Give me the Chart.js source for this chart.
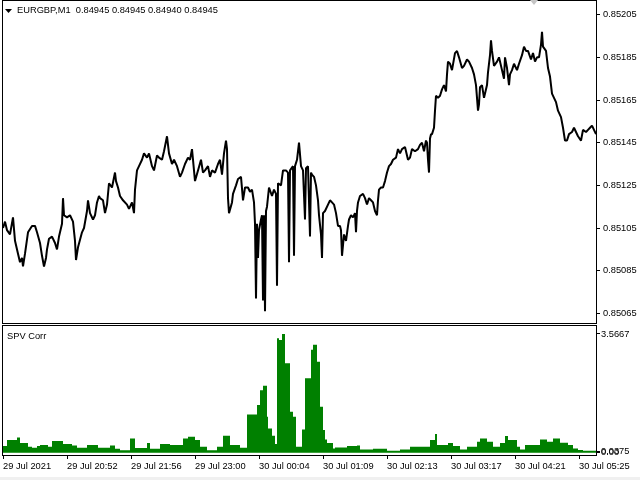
<!DOCTYPE html>
<html>
<head>
<meta charset="utf-8">
<script src="https://cdn.jsdelivr.net/npm/chart.js@4/dist/chart.umd.min.js"></script>
<style>
  html, body { margin: 0; padding: 0; background: #fff; }
  #wrap { position: relative; width: 640px; height: 480px; overflow: hidden; }
  #priceChart { position: absolute; left: 0; top: 0; }
  #corrChart { position: absolute; left: 0; top: 325px; }
  #strip { position: absolute; left: 0; top: 477px; width: 640px; height: 3px; background: #f0f0f0; }
</style>
</head>
<body>
<div id="wrap">
  <canvas id="priceChart" width="640" height="325"></canvas>
  <canvas id="corrChart" width="640" height="155"></canvas>
  <div id="strip"></div>
</div>
<script>
const symbolTitle = 'EURGBP,M1  0.84945 0.84945 0.84940 0.84945';
const indicatorName = 'SPV Corr';

// minutes after 29 Jul 2021 19:48 (one M1 bar per minute)
const priceMinutes = [
  0, 2, 4, 7, 10, 12, 15, 17, 19, 20, 22, 25, 29, 32, 34, 37, 39, 41, 43, 44, 46, 49, 52, 54, 56, 59, 60, 61, 64, 67, 70, 72, 73, 75, 79, 81, 84, 85, 87, 90, 92, 94, 96,
  97, 100, 102, 104, 106, 109, 112, 113, 115, 117, 120, 124, 126, 129, 131, 132, 134, 136, 139, 141, 144, 146, 149, 151, 154, 156, 159, 161, 164, 166, 169, 171, 174, 177, 179, 182, 185, 187, 189, 192, 195, 198, 200,
  202, 205, 207, 209, 212, 215, 217, 219, 221, 223, 224, 225, 226, 229, 230, 233, 235, 238, 240, 242, 245, 247, 249, 251, 252, 253, 254, 255, 256, 258, 259, 260, 261, 262, 263, 264, 266, 269, 271, 273, 274, 275, 278, 280, 283, 285, 286, 287, 290, 291, 292, 294, 296, 298, 300, 302, 303, 305, 307, 308, 309, 311, 313, 315, 316,
  318, 319, 320, 322, 325, 327, 329, 331, 333, 335, 337, 338, 339, 341, 343, 345, 346, 348, 350, 352, 353, 354, 355, 357, 360, 362, 364, 366, 368, 370, 372, 374, 375, 376, 378, 380, 382, 384, 386, 388, 390, 393, 395, 397, 399, 402,
  405, 407, 409, 412, 415, 417, 419, 421, 423, 424, 425, 426, 427, 428, 429, 431, 432, 433, 435, 437, 439, 441, 443, 444, 445, 447, 449, 452, 454, 456, 459, 461, 464, 466, 469, 471, 473, 475, 476, 477, 479, 481, 484, 485, 487, 488, 489, 491, 494, 496, 499, 501,
  502, 504, 506, 507, 509, 511, 514, 516, 519, 521, 523, 525, 528, 530, 532, 534, 536, 538, 539, 540, 543, 545, 547, 549, 551, 553, 555, 558, 560, 562, 564, 566, 569, 571, 573, 575, 578, 580, 583, 585, 587, 589, 591, 593
];
const closePrices = [
  0.85105, 0.85108, 0.85104, 0.85102, 0.85110, 0.85099, 0.85093, 0.85089, 0.85091, 0.85087, 0.85093, 0.85103, 0.85106, 0.85106, 0.85103, 0.85098, 0.85092, 0.85087, 0.85091, 0.85095, 0.85100, 0.85101, 0.85098, 0.85095, 0.85101, 0.85107, 0.85119, 0.85111, 0.85110, 0.85111, 0.85108, 0.85099, 0.85090, 0.85096, 0.85103, 0.85105, 0.85113, 0.85118, 0.85112, 0.85109, 0.85111, 0.85117, 0.85120,
  0.85119, 0.85118, 0.85112, 0.85116, 0.85126, 0.85124, 0.85131, 0.85127, 0.85124, 0.85120, 0.85118, 0.85116, 0.85114, 0.85117, 0.85112, 0.85123, 0.85132, 0.85134, 0.85137, 0.85140, 0.85138, 0.85140, 0.85134, 0.85132, 0.85139, 0.85138, 0.85137, 0.85141, 0.85148, 0.85140, 0.85135, 0.85137, 0.85134, 0.85129, 0.85131, 0.85135, 0.85138, 0.85137, 0.85142, 0.85127, 0.85132, 0.85137, 0.85131,
  0.85132, 0.85134, 0.85129, 0.85132, 0.85131, 0.85135, 0.85137, 0.85130, 0.85140, 0.85146, 0.85142, 0.85119, 0.85112, 0.85117, 0.85121, 0.85125, 0.85128, 0.85129, 0.85118, 0.85124, 0.85124, 0.85122, 0.85123, 0.85117, 0.85107, 0.85072, 0.85107, 0.85091, 0.85104, 0.85109, 0.85111, 0.85071, 0.85111, 0.85066, 0.85113, 0.85115, 0.85124, 0.85120, 0.85123, 0.85121, 0.85078, 0.85126, 0.85125, 0.85132, 0.85132, 0.85131, 0.85089, 0.85132, 0.85134, 0.85092, 0.85134, 0.85137, 0.85145, 0.85134, 0.85132, 0.85109, 0.85133, 0.85134, 0.85101, 0.85131, 0.85130, 0.85129, 0.85125,
  0.85118, 0.85111, 0.85102, 0.85091, 0.85112, 0.85113, 0.85116, 0.85118, 0.85117, 0.85116, 0.85112, 0.85106, 0.85106, 0.85104, 0.85092, 0.85102, 0.85099, 0.85106, 0.85109, 0.85111, 0.85110, 0.85112, 0.85103, 0.85113, 0.85117, 0.85120, 0.85121, 0.85119, 0.85116, 0.85119, 0.85118, 0.85117, 0.85113, 0.85111, 0.85118, 0.85123, 0.85124, 0.85124, 0.85127, 0.85131, 0.85134, 0.85135, 0.85137, 0.85138, 0.85142, 0.85140,
  0.85142, 0.85143, 0.85137, 0.85138, 0.85142, 0.85141, 0.85142, 0.85144, 0.85145, 0.85141, 0.85146, 0.85145, 0.85137, 0.85131, 0.85147, 0.85149, 0.85149, 0.85152, 0.85160, 0.85167, 0.85166, 0.85167, 0.85170, 0.85172, 0.85169, 0.85177, 0.85183, 0.85182, 0.85179, 0.85187, 0.85188, 0.85185, 0.85180, 0.85181, 0.85184, 0.85183, 0.85180, 0.85177, 0.85172, 0.85160, 0.85163, 0.85171, 0.85172, 0.85166, 0.85172, 0.85178, 0.85186, 0.85193, 0.85188, 0.85181, 0.85183, 0.85185,
  0.85179, 0.85175, 0.85185, 0.85180, 0.85172, 0.85177, 0.85179, 0.85182, 0.85179, 0.85182, 0.85186, 0.85190, 0.85188, 0.85188, 0.85184, 0.85187, 0.85183, 0.85185, 0.85185, 0.85191, 0.85197, 0.85190, 0.85188, 0.85180, 0.85176, 0.85168, 0.85166, 0.85164, 0.85160, 0.85157, 0.85152, 0.85146, 0.85146, 0.85149, 0.85150, 0.85152, 0.85150, 0.85148, 0.85146, 0.85151, 0.85150, 0.85151, 0.85152, 0.85153, 0.85151, 0.85149
];

// SPV Corr histogram: value holds from each minute until the next one
const corrMinutes = [
  0, 4, 14, 17, 25, 29, 34, 37, 45, 49, 60, 69, 74, 84, 95, 107, 112, 117, 127, 132, 144, 147, 157, 167, 180, 185, 192, 197, 204, 214, 220, 227, 237, 244,
  254, 257, 260, 264, 265, 269, 272, 274, 276, 279, 282, 287, 290, 293, 299, 302, 308, 310, 314, 317, 320, 322, 324, 330, 332, 344, 354, 357, 370, 384, 397, 407,
  427, 432, 434, 445, 450, 457, 464, 474, 477, 484, 490, 497, 502, 505, 514, 517, 522, 537, 544, 550, 557, 565, 570, 575, 580, 587, 593
];
const corrValues = [
  0.26, 0.20, 0.38, 0.46, 0.29, 0.18, 0.15, 0.20, 0.23, 0.18, 0.35, 0.26, 0.22, 0.15, 0.23, 0.15, 0.22, 0.12, 0.07, 0.43, 0.14, 0.29, 0.12, 0.26, 0.23, 0.43, 0.48, 0.38, 0.18, 0.07, 0.18, 0.51, 0.23, 0.15,
  1.15, 1.43, 1.88, 2.01, 1.08, 0.73, 0.51, 0.26, 3.44, 3.39, 3.5667, 2.69, 1.23, 1.08, 0.18, 0.70, 2.24, 3.09, 3.24, 2.73, 1.38, 0.68, 0.40, 0.29, 0.13, 0.16, 0.20, 0.22, 0.10, 0.12, 0.06, 0.10,
  0.18, 0.38, 0.56, 0.23, 0.29, 0.20, 0.10, 0.18, 0.33, 0.43, 0.33, 0.18, 0.29, 0.50, 0.38, 0.18, 0.10, 0.23, 0.40, 0.33, 0.43, 0.30, 0.23, 0.13, 0.08, 0.06, 0.06
];

const timeTickMinutes = [0, 64, 128, 192, 256, 320, 384, 448, 512, 576];
const timeTickLabels = ['29 Jul 2021', '29 Jul 20:52', '29 Jul 21:56', '29 Jul 23:00', '30 Jul 00:04',
  '30 Jul 01:09', '30 Jul 02:13', '30 Jul 03:17', '30 Jul 04:21', '30 Jul 05:25'];

const priceTicks = [0.85065, 0.85085, 0.85105, 0.85125, 0.85145, 0.85165, 0.85185, 0.85205];
const corrTicks = [0, 0.0375, 3.5667];
const corrTickLabels = ['0.00', '0.0375', '3.5667'];

const shiftMarkerMinute = 531;

const FONT = { family: 'Liberation Sans', size: 9.3 };
Chart.defaults.font.family = FONT.family;
Chart.defaults.font.size = FONT.size;
Chart.defaults.color = '#000';

// black frame round the plot area, like the terminal window
const framePlugin = {
  id: 'frame',
  afterDatasetsDraw(chart) {
    const a = chart.chartArea;
    const ctx = chart.ctx;
    ctx.save();
    ctx.strokeStyle = '#000';
    ctx.lineWidth = 1;
    ctx.strokeRect(Math.round(a.left) - 0.5, Math.round(a.top) - 0.5,
      Math.round(a.right - a.left) + 1, Math.round(a.bottom - a.top) + 1);
    ctx.restore();
  }
};

function fixedAxis(width) {
  return function (scale) {
    scale.width = width;
    scale.paddingTop = 0;
    scale.paddingBottom = 0;
  };
}

const priceChart = new Chart(document.getElementById('priceChart'), {
  type: 'line',
  data: {
    datasets: [{
      data: priceMinutes.map((m, i) => ({ x: m, y: closePrices[i] })),
      borderColor: '#000',
      borderWidth: 2,
      borderJoinStyle: 'bevel',
      pointRadius: 0,
      tension: 0
    }]
  },
  options: {
    responsive: false,
    animation: false,
    devicePixelRatio: 1,
    layout: { padding: { left: 3, top: 1, right: 0, bottom: 2 } },
    plugins: { legend: { display: false }, tooltip: { enabled: false } },
    scales: {
      x: { type: 'linear', min: 0, max: 593, display: false },
      y: {
        position: 'right',
        min: 0.850605,
        max: 0.852114,
        afterBuildTicks: (scale) => { scale.ticks = priceTicks.map(v => ({ value: v })); },
        afterFit: fixedAxis(44),
        border: { display: false },
        grid: { drawOnChartArea: false, drawTicks: true, tickLength: 4, color: '#000' },
        ticks: { padding: 3, autoSkip: false, callback: (v) => Number(v).toFixed(5) }
      }
    }
  },
  plugins: [framePlugin, {
    id: 'header',
    afterDraw(chart) {
      const a = chart.chartArea;
      const ctx = chart.ctx;
      ctx.save();
      ctx.fillStyle = '#000';
      ctx.beginPath();
      ctx.moveTo(a.left + 2, a.top + 8);
      ctx.lineTo(a.left + 9, a.top + 8);
      ctx.lineTo(a.left + 5.5, a.top + 12);
      ctx.closePath();
      ctx.fill();
      ctx.font = FONT.size + 'px ' + FONT.family;
      ctx.textBaseline = 'middle';
      ctx.fillText(symbolTitle, a.left + 14, a.top + 9.5);
      // grey shift marker on the top edge
      const sx = chart.scales.x.getPixelForValue(shiftMarkerMinute);
      ctx.fillStyle = '#c4c4c4';
      ctx.beginPath();
      ctx.moveTo(sx - 4, 0);
      ctx.lineTo(sx + 4, 0);
      ctx.lineTo(sx, 5);
      ctx.closePath();
      ctx.fill();
      ctx.restore();
    }
  }]
});

const corrChart = new Chart(document.getElementById('corrChart'), {
  type: 'line',
  data: {
    datasets: [{
      data: corrMinutes.map((m, i) => ({ x: m, y: corrValues[i] })),
      stepped: 'after',
      borderWidth: 0,
      borderColor: '#008000',
      backgroundColor: '#008000',
      fill: 'origin',
      pointRadius: 0
    }]
  },
  options: {
    responsive: false,
    animation: false,
    devicePixelRatio: 1,
    layout: { padding: { left: 3, top: 1, right: 0, bottom: 0 } },
    plugins: { legend: { display: false }, tooltip: { enabled: false } },
    scales: {
      x: {
        type: 'linear',
        min: 0,
        max: 593,
        afterBuildTicks: (scale) => { scale.ticks = timeTickMinutes.map(v => ({ value: v })); },
        afterFit: (scale) => { scale.height = 25; scale.paddingLeft = 0; scale.paddingRight = 0; },
        border: { display: false },
        grid: { drawOnChartArea: false, drawTicks: true, tickLength: 4, color: '#000' },
        ticks: {
          autoSkip: false, maxRotation: 0, align: 'start', padding: 2,
          callback: (v) => timeTickLabels[timeTickMinutes.indexOf(v)]
        }
      },
      y: {
        position: 'right',
        min: -0.069,
        max: 3.807,
        afterBuildTicks: (scale) => { scale.ticks = corrTicks.map(v => ({ value: v })); },
        afterFit: fixedAxis(44),
        border: { display: false },
        grid: { drawOnChartArea: false, drawTicks: true, tickLength: 4, color: '#000' },
        ticks: { padding: 1, autoSkip: false, callback: (v) => corrTickLabels[corrTicks.indexOf(v)] }
      }
    }
  },
  plugins: [framePlugin, {
    id: 'indicatorName',
    afterDraw(chart) {
      const a = chart.chartArea;
      const ctx = chart.ctx;
      ctx.save();
      ctx.fillStyle = '#000';
      ctx.font = FONT.size + 'px ' + FONT.family;
      ctx.textBaseline = 'middle';
      ctx.fillText(indicatorName, a.left + 4, a.top + 10);
      ctx.restore();
    }
  }]
});
</script>
</body>
</html>
